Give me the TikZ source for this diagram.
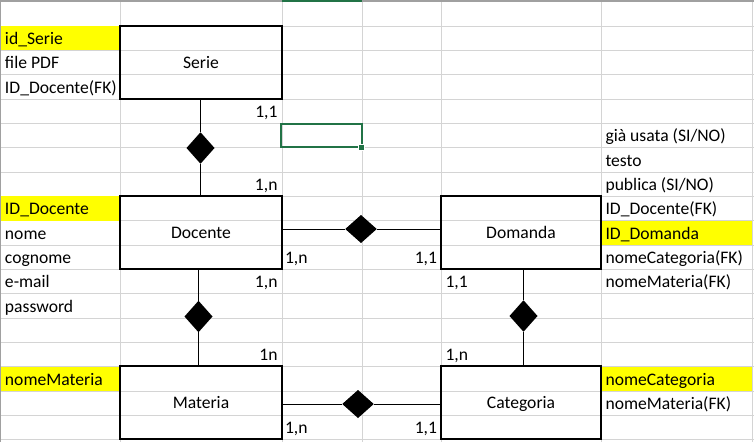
\documentclass[tikz,border=0pt]{standalone}
\usepackage{fontspec}
\setmainfont{Carlito}
\usetikzlibrary{shapes.geometric}
\definecolor{gridc}{RGB}{212,212,212}
\definecolor{hdr}{RGB}{160,160,160}
\definecolor{xlgreen}{RGB}{33,115,70}
\definecolor{hl}{RGB}{255,255,0}
\begin{document}
\begin{tikzpicture}[x=1pt,y=-1pt,
  every node/.style={font=\fontsize{17.6}{20}\selectfont, inner sep=0pt, outer sep=0pt},
  cell/.style={anchor=base west},
  cellr/.style={anchor=base east},
  entity/.style={draw, line width=2pt, minimum width=162pt, minimum height=73pt, text height=11.3pt, text depth=0pt},
  rel/.style={diamond, fill=black, inner sep=0pt, minimum width=28pt, minimum height=31.5pt},
  relh/.style={diamond, fill=black, inner sep=0pt, minimum width=31.5pt, minimum height=28pt},
  conn/.style={line width=1pt},
  gridline/.style={gridc, line width=1pt},
  hlcell/.style={fill=hl}]
\useasboundingbox (0,0) rectangle (754,442);
\fill[white] (0,0) rectangle (754,442);
% grid
\foreach \k in {1,...,18} {
  \draw[gridline] (0,{1.8+24.33*\k}) -- (754,{1.8+24.33*\k});
}
\foreach \x in {120,282,362,441,601,752} {
  \draw[gridline] (\x,0) -- (\x,442);
}
% highlighted cells
\fill[hlcell] (1,{1.8+24.33*1}) rectangle (120,{1.8+24.33*2});
\fill[hlcell] (1,{1.8+24.33*8}) rectangle (120,{1.8+24.33*9});
\fill[hlcell] (1,{1.8+24.33*15}) rectangle (120,{1.8+24.33*16});
\fill[hlcell] (601,{1.8+24.33*9}) rectangle (752,{1.8+24.33*10});
\fill[hlcell] (601,{1.8+24.33*15}) rectangle (752,{1.8+24.33*16});
% header edges
\draw[hdr, line width=2pt] (0,1) -- (754,1);
\draw[hdr, line width=1pt] (0.5,0) -- (0.5,442);
\draw[xlgreen, line width=2pt] (282,1) -- (362,1);
% selected cell
\draw[xlgreen, line width=2pt] (281,123.5) rectangle (362,147.3);
\node[fill=xlgreen, draw=white, line width=0.8pt, minimum size=6pt] (handle) at (361,147) {};
% entities
\node[entity] (serie) at (201,62.5) {Serie};
\node[entity] (docente) at (201,232.6) {Docente};
\node[entity, minimum width=160pt] (domanda) at (521,232.6) {Domanda};
\node[entity] (materia) at (201,402.6) {Materia};
\node[entity, minimum width=160pt] (categoria) at (521,402.6) {Categoria};
% relationships
\node[rel] (d1) at (200.5,148) {};
\node[relh] (d2) at (361,229) {};
\node[rel] (d3) at (198.5,316.5) {};
\node[relh] (d4) at (358,404) {};
\node[rel] (d5) at (523.5,316) {};
% connectors
\draw[conn] (serie.south -| d1.north) -- (d1.north);
\draw[conn] (d1.south) -- (d1.south |- docente.north);
\draw[conn] (docente.east |- d2.west) -- (d2.west);
\draw[conn] (d2.east) -- (d2.east -| domanda.west);
\draw[conn] (docente.south -| d3.north) -- (d3.north);
\draw[conn] (d3.south) -- (d3.south |- materia.north);
\draw[conn] (domanda.south -| d5.north) -- (d5.north);
\draw[conn] (d5.south) -- (d5.south |- categoria.north);
\draw[conn] (materia.east |- d4.west) -- (d4.west);
\draw[conn] (d4.east) -- (d4.east -| categoria.west);
% attributes, column A
\node[cell] (a1) at (5,44.46) {id\_Serie};
\node[cell] (a2) at (5,68.79) {file PDF};
\node[cell] (a3) at (5,93.12) {ID\_Docente(FK)};
\node[cell] (a8) at (5,214.77) {ID\_Docente};
\node[cell] (a9) at (5,239.1) {nome};
\node[cell] (a10) at (5,263.43) {cognome};
\node[cell] (a11) at (5,287.76) {e-mail};
\node[cell] (a12) at (5,312.09) {password};
\node[cell] (a15) at (5,385.08) {nomeMateria};
% attributes, column F
\node[cell] (f5) at (605.5,141.78) {già usata (SI/NO)};
\node[cell] (f6) at (605.5,166.11) {testo};
\node[cell] (f7) at (605.5,190.44) {publica (SI/NO)};
\node[cell] (f8) at (605.5,214.77) {ID\_Docente(FK)};
\node[cell] (f9) at (605.5,239.1) {ID\_Domanda};
\node[cell] (f10) at (605.5,263.43) {nomeCategoria(FK)};
\node[cell] (f11) at (605.5,287.76) {nomeMateria(FK)};
\node[cell] (f15) at (605.5,385.08) {nomeCategoria};
\node[cell] (f16) at (605.5,409.41) {nomeMateria(FK)};
% cardinalities
\node[cellr] (c1) at (277.5,117.45) {1,1};
\node[cellr] (c2) at (277.5,190.44) {1,n};
\node[cell] (c3) at (285,263.43) {1,n};
\node[cellr] (c4) at (437,263.43) {1,1};
\node[cellr] (c5) at (277.5,287.76) {1,n};
\node[cell] (c6) at (445.5,287.76) {1,1};
\node[cellr] (c7) at (277.5,360.75) {1n};
\node[cell] (c8) at (445.5,360.75) {1,n};
\node[cell] (c9) at (285,433.74) {1,n};
\node[cellr] (c10) at (437,433.74) {1,1};
\end{tikzpicture}
\end{document}
